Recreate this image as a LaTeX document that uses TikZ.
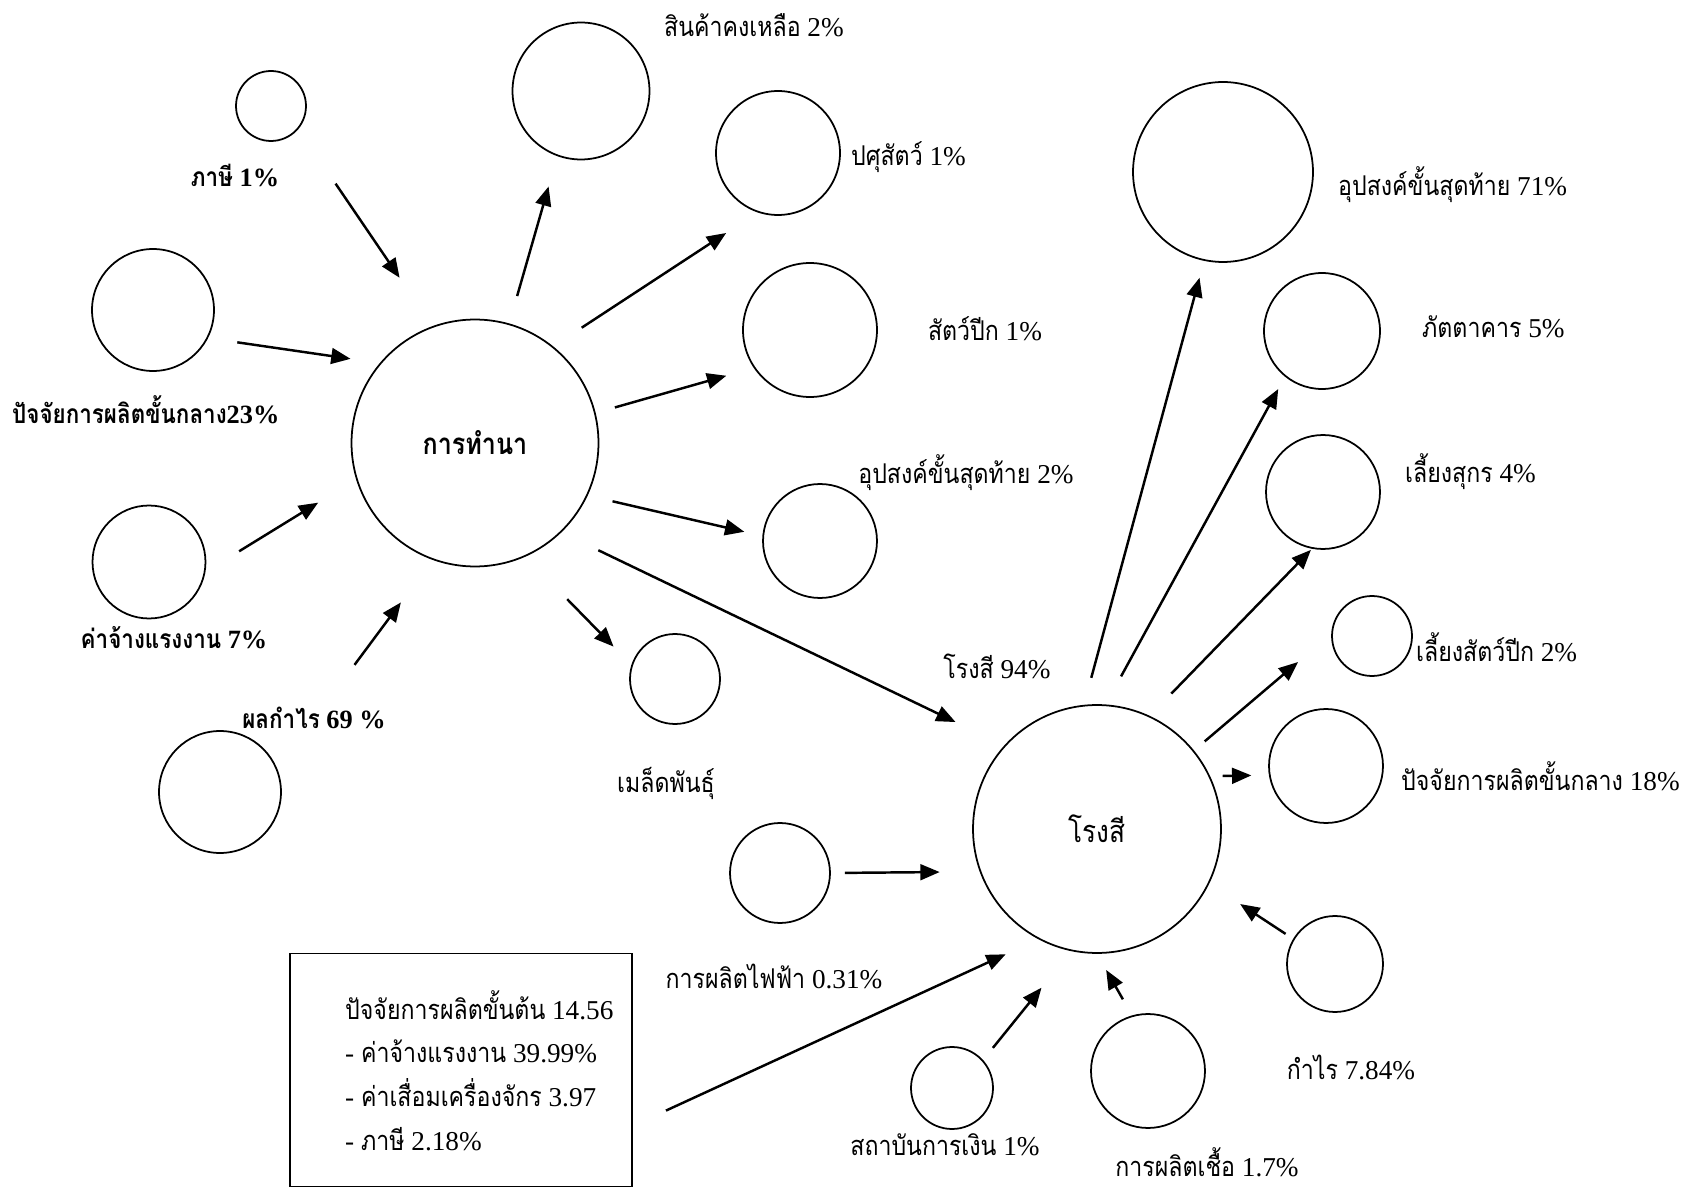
\documentclass[tikz,border=0pt]{standalone}
\usepackage{fontspec}
\setmainfont{Liberation Serif}
\newfontfamily\thai[Script=Thai,FakeStretch=0.85]{Loma}
\usetikzlibrary{arrows.meta}

\begin{document}
\begin{tikzpicture}[
    x=0.02cm, y=-0.02cm,
    >={Triangle[length=11pt,width=9pt]},
    bub/.style={circle,draw,line width=1pt,inner sep=0pt,minimum size=#1},
    lbl/.style={font=\fontsize{15.5}{18}\selectfont},
    blbl/.style={font=\fontsize{15}{18}\selectfont\bfseries},
    arr/.style={->,line width=1.4pt}
]
\useasboundingbox (0,0) rectangle (1695,1189);

\node[bub=1.4cm] (tax) at (271,106) {};
\node[bub=2.44cm] (mid) at (153,310) {};
\node[bub=4.94cm,font=\fontsize{16.8}{19}\selectfont\bfseries] (farm) at (475,443) {\thai การทำนา};
\node[bub=2.26cm] (wage) at (149,562) {};
\node[bub=2.44cm] (prof) at (220,792) {};
\node[bub=2.74cm] (inv) at (581,91) {};
\node[bub=2.48cm] (live) at (778,153) {};
\node[bub=2.68cm] (bird) at (810,330) {};
\node[bub=2.28cm] (fd) at (820,541) {};
\node[bub=1.8cm] (seed) at (675,679) {};
\node[bub=4.96cm,font=\fontsize{17.5}{20}\selectfont] (mill) at (1097,829) {\thai โรงสี};
\node[bub=3.6cm] (fdm) at (1223,172) {};
\node[bub=2.32cm] (rest) at (1322,331) {};
\node[bub=2.28cm] (pig) at (1323,492) {};
\node[bub=1.6cm] (fowl) at (1372,636) {};
\node[bub=2.28cm] (midm) at (1326,766) {};
\node[bub=2.0cm] (elec) at (780,873) {};
\node[bub=1.64cm] (fin) at (952,1088) {};
\node[bub=2.28cm] (inoc) at (1148,1071) {};
\node[bub=1.92cm] (profm) at (1335,964) {};
\node[draw,line width=1pt,minimum width=6.84cm,minimum height=4.66cm] (box) at (461,1070) {};

\node[blbl] (taxl) at (235,176) {{\thai ภาษี} 1\%};
\node[blbl,anchor=west] (midl) at (6,410) {{\thai ปัจจัยการผลิตขั้นกลาง}23\%};
\node[blbl] (wagel) at (174,638) {{\thai ค่าจ้างแรงงาน} 7\%};
\node[blbl] (profl) at (314,718) {{\thai ผลกำไร} 69 \%};
\node[lbl] (invl) at (754,25) {{\thai สินค้าคงเหลือ} 2\%};
\node[lbl,anchor=west] (livel) at (845,157) {{\thai ปศุสัตว์} 1\%};
\node[lbl] (birdl) at (985,329) {{\thai สัตว์ปีก} 1\%};
\node[lbl] (fdl) at (966,473) {{\thai อุปสงค์ขั้นสุดท้าย} 2\%};
\node[lbl] (seedl) at (666,783) {\thai เมล็ดพันธุ์};
\node[lbl] (milll) at (997,666) {{\thai โรงสี} 94\%};
\node[lbl] (elecl) at (774,976) {{\thai การผลิตไฟฟ้า} 0.31\%};
\node[lbl] (finl) at (945,1145) {{\thai สถาบันการเงิน} 1\%};
\node[lbl] (inocl) at (1207,1162) {{\thai การผลิตเชื้อ} 1.7\%};
\node[lbl] (profml) at (1351,1067) {{\thai กำไร} 7.84\%};
\node[lbl,anchor=west] (fdml) at (1332,185) {{\thai อุปสงค์ขั้นสุดท้าย} 71\%};
\node[lbl,anchor=west] (restl) at (1416,327) {{\thai ภัตตาคาร} 5\%};
\node[lbl,anchor=west] (pigl) at (1399,472) {{\thai เลี้ยงสุกร} 4\%};
\node[lbl,anchor=west] (fowll) at (1410,647) {{\thai เลี้ยงสัตว์ปีก} 2\%};
\node[lbl,anchor=west] (midml) at (1395,776) {{\thai ปัจจัยการผลิตขั้นกลาง} 18\%};
\node[lbl,anchor=north west,align=left,font=\fontsize{15.5}{25}\selectfont] (boxl) at (339,984)
    {{\thai ปัจจัยการผลิตขั้นต้น} 14.56\\- {\thai ค่าจ้างแรงงาน} 39.99\%\\- {\thai ค่าเสื่อมเครื่องจักร} 3.97\\- {\thai ภาษี} 2.18\%};

\draw[arr,shorten <=1.32cm,shorten >=1.17cm] (tax.-40) -- (farm.110);
\draw[arr,shorten <=0.59cm,shorten >=0.59cm] (mid.-27.5) -- (farm.140.6);
\draw[arr,shorten <=0.79cm,shorten >=0.89cm] (wage.-10.5) -- (farm.197.9);
\draw[arr,shorten <=2.59cm,shorten >=1.06cm] (prof.22.2) -- (farm.-110);
\draw[arr,shorten <=0.57cm,shorten >=0.63cm] (farm.74.5) -- (inv.-110.9);
\draw[arr,shorten <=0.68cm,shorten >=0.75cm] (farm.51.8) -- (live.-109.4);
\draw[arr,shorten <=0.4cm,shorten >=0.57cm] (farm.14.9) -- (bird.-146);
\draw[arr,shorten <=0.51cm,shorten >=0.37cm] (farm.-25.5) -- (fd.175);
\draw[arr,shorten <=1.19cm,shorten >=0.51cm] (farm.-66.8) -- (seed.162.1);
\draw[arr,shorten <=0.82cm,shorten >=1.08cm] (farm.-46.7) -- (mill.138.9);
\draw[arr,shorten <=0.56cm,shorten >=0.35cm] (mill.96.6) -- (fdm.-102.4);
\draw[arr,shorten <=0.64cm,shorten >=0.28cm] (mill.86) -- (rest.-129.9);
\draw[arr,shorten <=0.62cm,shorten >=0.03cm] (mill.65.5) -- (pig.-101.1);
\draw[arr,shorten <=0.28cm,shorten >=0.87cm] (mill.39) -- (fowl.177.3);
\draw[arr,shorten <=0.25cm,shorten >=0.35cm] (mill.25.8) -- (midm.189.1);
\draw[arr,shorten <=0.28cm,shorten >=0.8cm] (elec.0) -- (mill.200.8);
\draw[arr,shorten <=0.73cm,shorten >=0.72cm] (box.-18.7) -- (mill.-118.7);
\draw[arr,shorten <=0.31cm,shorten >=0.94cm] (fin.42.6) -- (mill.-102.3);
\draw[arr,shorten <=0.37cm,shorten >=0.37cm] (inoc.106.4) -- (mill.-90);
\draw[arr,shorten <=0.18cm,shorten >=0.74cm] (profm.149.9) -- (mill.-26.2);
\end{tikzpicture}
\end{document}
